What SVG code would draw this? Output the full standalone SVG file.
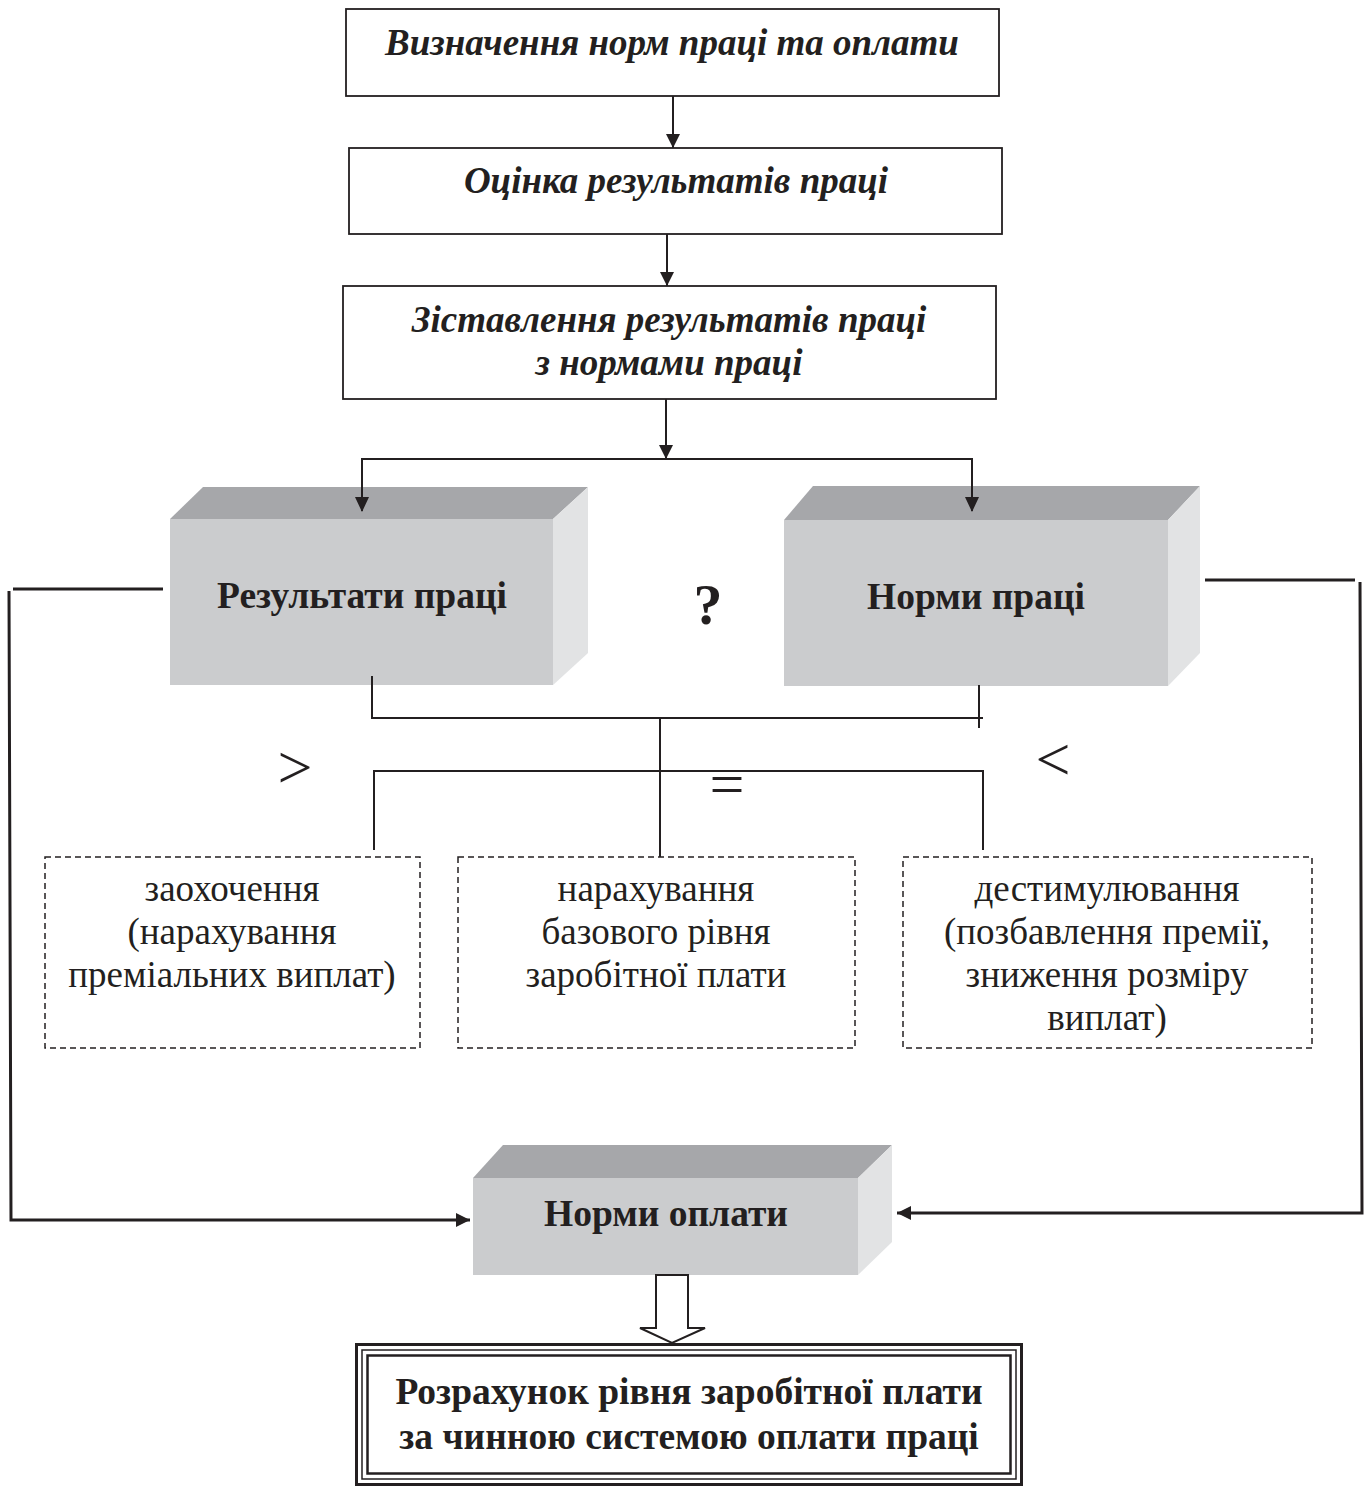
<svg xmlns="http://www.w3.org/2000/svg" width="1365" height="1486" viewBox="0 0 1365 1486">
<defs>
<style>
.box{fill:#fff;stroke:#231f20;stroke-width:1.8}
.dash{fill:#fff;stroke:#231f20;stroke-width:1.5;stroke-dasharray:6 4}
.ti{font-family:"Liberation Serif",serif;font-weight:bold;font-style:italic;font-size:37px;fill:#231f20;text-anchor:middle}
.tb{font-family:"Liberation Serif",serif;font-weight:bold;font-size:37.5px;fill:#231f20;text-anchor:middle}
.tr{font-family:"Liberation Serif",serif;font-size:37px;fill:#231f20;text-anchor:middle}
.top{fill:#a6a7aa}
.front{fill:#cbccce}
.side{fill:#e2e3e4}
.ln{fill:none;stroke:#231f20;stroke-width:2}
.lt{fill:none;stroke:#231f20;stroke-width:3}
</style>
<marker id="ah2" markerWidth="14" markerHeight="14" refX="14" refY="7" orient="auto" markerUnits="userSpaceOnUse" viewBox="0 0 14 14">
<path d="M0,0 L14,7 L0,14 z" fill="#231f20"/>
</marker>
</defs>
<rect width="1365" height="1486" fill="#fff"/>

<g id="n1">
<rect class="box" x="346" y="9" width="653" height="87"/>
<text class="ti" x="672" y="55">Визначення норм праці та оплати</text>
</g>
<g id="n2">
<rect class="box" x="349" y="148" width="653" height="86"/>
<text class="ti" x="676" y="193">Оцінка результатів праці</text>
</g>
<g id="n3">
<rect class="box" x="343" y="286" width="653" height="113"/>
<text class="ti" x="669" y="332">Зіставлення результатів праці</text>
<text class="ti" x="669" y="375">з нормами праці</text>
</g>

<g id="n4">
<polygon class="top" points="170,519 203,487 588,487 553,519"/>
<polygon class="side" points="553,519 588,487 588,653 553,685"/>
<rect class="front" x="170" y="519" width="383" height="166"/>
<text class="tb" x="362" y="608">Результати праці</text>
</g>
<g id="n5">
<polygon class="top" points="784,520 813,486 1200,486 1168,520"/>
<polygon class="side" points="1168,520 1200,486 1200,653 1168,686"/>
<rect class="front" x="784" y="520" width="384" height="166"/>
<text class="tb" x="976" y="609">Норми праці</text>
</g>
<text class="tb" x="708" y="624" style="font-size:58px">?</text>
<text class="tr" x="295" y="788" style="font-size:62px">&gt;</text>
<text class="tr" x="727" y="805" style="font-size:62px">=</text>
<text class="tr" x="1053" y="780" style="font-size:62px">&lt;</text>

<g id="n6">
<rect class="dash" x="45" y="857" width="375" height="191"/>
<text class="tr" x="232" y="901">заохочення</text>
<text class="tr" x="232" y="944">(нарахування</text>
<text class="tr" x="232" y="987">преміальних виплат)</text>
</g>
<g id="n7">
<rect class="dash" x="458" y="857" width="397" height="191"/>
<text class="tr" x="656" y="901">нарахування</text>
<text class="tr" x="656" y="944">базового рівня</text>
<text class="tr" x="656" y="987">заробітної плати</text>
</g>
<g id="n8">
<rect class="dash" x="903" y="857" width="409" height="191"/>
<text class="tr" x="1107" y="901">дестимулювання</text>
<text class="tr" x="1107" y="944">(позбавлення премії,</text>
<text class="tr" x="1107" y="987">зниження розміру</text>
<text class="tr" x="1107" y="1030">виплат)</text>
</g>

<g id="n9">
<polygon class="top" points="473,1178 503,1145 892,1145 858,1178"/>
<polygon class="side" points="858,1178 892,1145 892,1242 858,1275"/>
<rect class="front" x="473" y="1178" width="385" height="97"/>
<text class="tb" x="666" y="1226">Норми оплати</text>
</g>

<g id="n10">
<rect x="356.5" y="1344.5" width="665" height="140" fill="#fff" stroke="#231f20" stroke-width="3"/>
<rect x="362" y="1350" width="654" height="129" fill="none" stroke="#231f20" stroke-width="1.5"/>
<rect x="367.5" y="1355.5" width="643" height="118" fill="none" stroke="#231f20" stroke-width="2.5"/>
<text class="tb" x="689" y="1404">Розрахунок рівня заробітної плати</text>
<text class="tb" x="689" y="1449">за чинною системою оплати праці</text>
</g>

<g id="connectors">
<line class="ln" x1="673" y1="96" x2="673" y2="148" marker-end="url(#ah2)"/>
<line class="ln" x1="667" y1="234" x2="667" y2="286" marker-end="url(#ah2)"/>
<line class="ln" x1="666" y1="399" x2="666" y2="459" marker-end="url(#ah2)"/>
<polyline class="ln" points="362,511 362,459 972,459 972,511"/>
<path d="M355,497 L369,497 L362,512 z" fill="#231f20"/>
<path d="M965,497 L979,497 L972,512 z" fill="#231f20"/>
<polyline class="lt" points="163,589 13,589"/>
<polyline class="lt" points="9,591 11,1220 470,1220" marker-end="url(#ah2)"/>
<polyline class="lt" points="1205,580 1355,580"/>
<polyline class="lt" points="1360,582 1362,1213 897,1213" marker-end="url(#ah2)"/>
<polyline class="ln" points="372,676 372,718 983,718"/>
<line class="ln" x1="979" y1="685" x2="979" y2="728"/>
<line class="ln" x1="660" y1="718" x2="660" y2="857"/>
<polyline class="ln" points="374,850 374,771 983,771 983,850"/>
<path d="M656,1275 L688,1275 L688,1328 L705,1328 L672,1343 L640,1328 L656,1328 z" fill="#fff" stroke="#231f20" stroke-width="2"/>
</g>
</svg>
